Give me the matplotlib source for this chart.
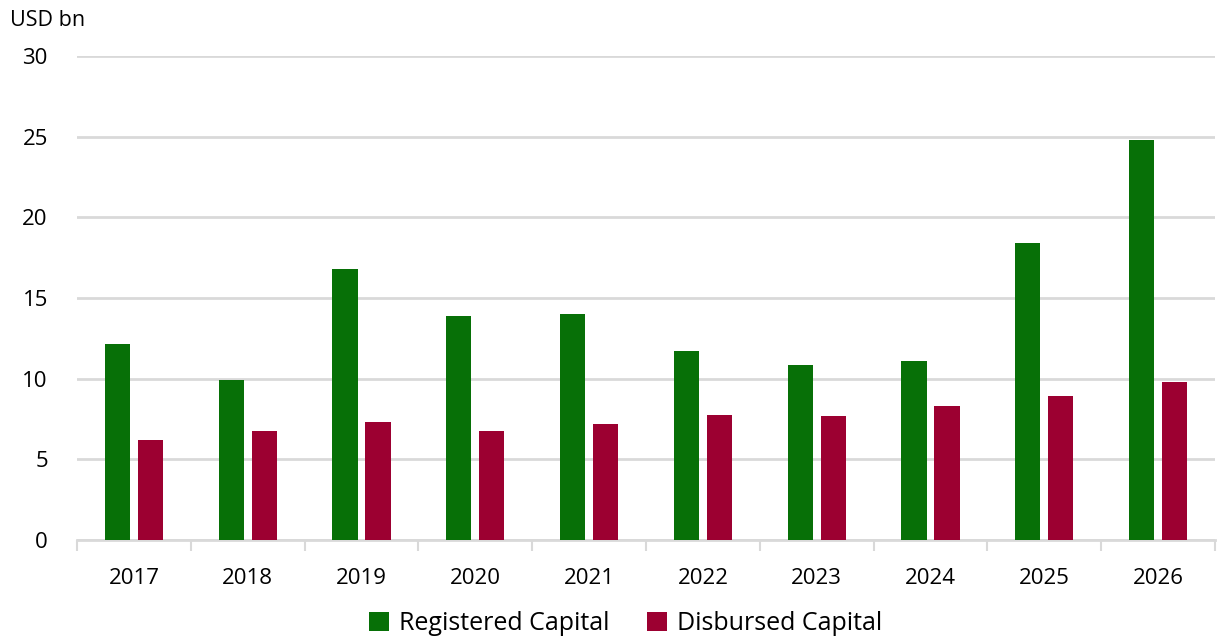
import numpy as np
import matplotlib.pyplot as plt
from matplotlib.ticker import FixedLocator

plt.rcParams['font.family'] = ['Open Sans', 'DejaVu Sans']

# ==================== 数据 ====================
years = ['2017', '2018', '2019', '2020', '2021', '2022', '2023', '2024', '2025', '2026']
registered = [12.13, 9.92, 16.78, 13.9, 13.98, 11.72, 10.86, 11.1, 18.4, 24.8]
disbursed = [6.18, 6.78, 7.32, 6.76, 7.17, 7.75, 7.7, 8.3, 8.93, 9.78]

GREEN = '#077007'
RED = '#9c0031'
GRID = '#d9d9d9'

fig = plt.figure(figsize=(12.17, 6.39), dpi=100)
ax = fig.add_axes([77 / 1217, 1 - 540 / 639, 1138 / 1217, 484 / 639])

x = np.arange(len(years))
w = 0.22
ax.bar(x - 0.145, registered, width=w, color=GREEN, label='Registered Capital', zorder=3)
ax.bar(x + 0.145, disbursed, width=w, color=RED, label='Disbursed Capital', zorder=3)

ax.set_xlim(-0.5, len(years) - 0.5)
ax.set_ylim(0, 30)
ax.set_yticks(range(0, 31, 5))
ax.yaxis.grid(True, color=GRID, linewidth=2, zorder=0)
ax.set_axisbelow(True)

for s in ['top', 'right', 'left']:
    ax.spines[s].set_visible(False)
ax.spines['bottom'].set_color(GRID)
ax.spines['bottom'].set_linewidth(2)

# x 轴：标签居中，刻度线在类别分界处
ax.set_xticks(x)
ax.set_xticklabels(years, fontsize=16)
ax.tick_params(axis='x', which='major', length=0, pad=20)
ax.xaxis.set_minor_locator(FixedLocator(np.arange(-0.5, len(years), 1.0)))
ax.tick_params(axis='x', which='minor', length=8, width=1.5, color=GRID)
ax.tick_params(axis='y', length=0, labelsize=16, pad=21)

fig.text(10 / 1217, 1 - 20 / 639, 'USD bn', fontsize=15.5, va='center', ha='left')

ax.legend(loc='center', bbox_to_anchor=(0.482, -0.173), ncol=2, frameon=False,
          fontsize=18, handlelength=0.8, handleheight=0.8, handletextpad=0.4,
          columnspacing=1.5)

plt.savefig('out.png', dpi=100)
plt.close()
